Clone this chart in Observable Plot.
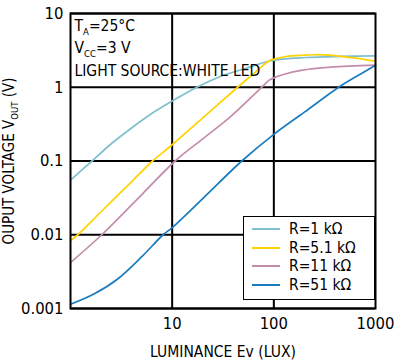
<!DOCTYPE html>
<html><head><meta charset="utf-8">
<script src="https://cdn.jsdelivr.net/npm/d3@7"></script>
<script src="https://cdn.jsdelivr.net/npm/@observablehq/plot@0.6"></script>
<style>
html,body{margin:0;padding:0;background:#fff;}
#wrap{position:relative;width:400px;height:363px;overflow:hidden;}
#legend{position:absolute;left:243px;top:216px;width:132px;height:84px;box-sizing:border-box;border:1.6px solid #000;background:#fff;}
#legend .row{position:absolute;left:0;height:18px;display:flex;align-items:center;}
#legend .sw{width:28px;height:2px;margin-left:8px;margin-right:9px;}
</style></head><body><div id="wrap"></div>
<script>
const FONT = "'Liberation Sans Narrow','Arial Narrow','DejaVu Sans Condensed',sans-serif";

// series names and colours
const seriesNames = ["R=1 kΩ", "R=5.1 kΩ", "R=11 kΩ", "R=51 kΩ"];
const seriesColors = ["#7fbfcf", "#ffd200", "#c48dab", "#1a7cc0"];

// R = 1 kΩ
const lux1k  = [1, 1.63, 2.5, 3.9, 6.3, 10, 17.5, 29, 54, 94, 207, 450, 1000];
const vout1k = [0.055, 0.1, 0.17, 0.274, 0.44, 0.65, 1.0, 1.38, 1.82, 2.29, 2.53, 2.62, 2.66];
// R = 5.1 kΩ
const lux5k  = [1, 1.18, 2, 4, 6.42, 10, 20, 44, 66, 90, 101, 132, 206, 247, 350, 526, 750, 1000];
const vout5k = [0.0083, 0.01, 0.0205, 0.0525, 0.1, 0.166, 0.384, 1.0, 1.61, 2.29, 2.41, 2.61, 2.72, 2.76, 2.72, 2.56, 2.41, 2.25];
// R = 11 kΩ
const lux11k  = [1, 2.03, 5, 10.7, 20, 36.8, 63.5, 83, 90, 105, 122, 185, 361, 1000];
const vout11k = [0.0042, 0.01, 0.0348, 0.1, 0.2, 0.391, 0.79, 1.13, 1.25, 1.38, 1.48, 1.69, 1.87, 1.99];
// R = 51 kΩ
const lux51k  = [1, 1.7, 2.89, 5, 8.14, 10, 20, 48.4, 100, 200, 435, 700, 1000];
const vout51k = [0.00114, 0.00157, 0.00249, 0.005, 0.01, 0.0125, 0.031, 0.1, 0.23, 0.46, 1.0, 1.49, 1.99];

// axes ticks
const xGrid = [10, 100];
const xTicks = [10, 100, 1000];
const xTickLabels = ["10", "100", "1000"];
const yTicks = [0.001, 0.01, 0.1, 1, 10];
const yTickLabels = ["0.001", "0.01", "0.1", "1", "10"];

// texts
const xLabel = "LUMINANCE Ev (LUX)";
const yLabel = "OUPUT VOLTAGE V{OUT} (V)";
const notes = ["T{A}=25°C", "V{CC}=3 V", "LIGHT SOURCE:WHITE LED"];

const luxes = [lux1k, lux5k, lux11k, lux51k];
const vouts = [vout1k, vout5k, vout11k, vout51k];
const data = seriesNames.flatMap((s, i) => luxes[i].map((x, j) => ({series: s, lux: x, vout: vouts[i][j]})));

const plot = Plot.plot({
  width: 400, height: 363,
  marginLeft: 70, marginRight: 25, marginTop: 13, marginBottom: 55,
  style: {fontFamily: FONT, fontSize: "16.5px", color: "#000", background: "#fff", overflow: "visible"},
  x: {type: "log", domain: [1, 1000]},
  y: {type: "log", domain: [0.001, 10]},
  color: {domain: seriesNames, range: seriesColors},
  marks: [
    Plot.ruleX(xGrid, {stroke: "#000", strokeWidth: 2}),
    Plot.ruleY(yTicks, {stroke: "#000", strokeWidth: 2}),
    Plot.line(data, {x: "lux", y: "vout", z: "series", stroke: "series", curve: "catmull-rom", strokeWidth: 1.7}),
    Plot.frame({stroke: "#000", strokeWidth: 2}),
    Plot.axisX(xTicks, {tickSize: 0, tickPadding: 9, tickFormat: (d) => xTickLabels[xTicks.indexOf(d)], fontSize: 16.5,
      label: xLabel, labelAnchor: "center", labelArrow: "none", labelOffset: 48}),
    Plot.axisY(yTicks, {tickSize: 0, tickPadding: 7, tickFormat: (d) => yTickLabels[yTicks.indexOf(d)], fontSize: 16.5,
      label: yLabel, labelAnchor: "center", labelArrow: "none", labelOffset: 67}),
    Plot.text([notes[0]], {frameAnchor: "top-left", dx: 4, dy: 6, lineAnchor: "top", textAnchor: "start", fontSize: 15.5}),
    Plot.text([notes[1]], {frameAnchor: "top-left", dx: 4, dy: 28.5, lineAnchor: "top", textAnchor: "start", fontSize: 15.5}),
    Plot.text([notes[2]], {frameAnchor: "top-left", dx: 4, dy: 51, lineAnchor: "top", textAnchor: "start", fontSize: 15.5})
  ]
});

// axis label font sizes
d3.select(plot).selectAll('g[aria-label="x-axis label"] text').attr("font-size", 15.5);
d3.select(plot).selectAll('g[aria-label="y-axis label"] text').attr("font-size", 15);

// subscripts
d3.select(plot).selectAll("text").each(function () {
  const el = this;
  if (el.querySelector("tspan")) return;
  const s = el.textContent;
  if (!s.includes("{")) return;
  const parts = s.split(/(\{[^}]*\})/).filter((p) => p.length);
  el.textContent = "";
  let prevSub = false;
  for (const p of parts) {
    const t = document.createElementNS("http://www.w3.org/2000/svg", "tspan");
    if (p.startsWith("{")) {
      t.textContent = p.slice(1, -1);
      t.setAttribute("font-size", "9.5");
      t.setAttribute("dy", "4");
      prevSub = true;
    } else {
      t.textContent = p;
      if (prevSub) t.setAttribute("dy", "-4");
      prevSub = false;
    }
    el.appendChild(t);
  }
});

const wrap = document.getElementById("wrap");
wrap.appendChild(plot);

// legend
const legend = document.createElement("div");
legend.id = "legend";
seriesNames.forEach((name, i) => {
  const row = document.createElement("div");
  row.className = "row";
  row.style.top = (3 + i * 18.7) + "px";
  const sw = document.createElement("div");
  sw.className = "sw";
  sw.style.background = seriesColors[i];
  const tx = document.createElement("span");
  tx.textContent = name;
  tx.style.fontFamily = FONT;
  tx.style.fontSize = "15.5px";
  tx.style.lineHeight = "18px";
  row.appendChild(sw);
  row.appendChild(tx);
  legend.appendChild(row);
});
wrap.appendChild(legend);
</script>
</body></html>
